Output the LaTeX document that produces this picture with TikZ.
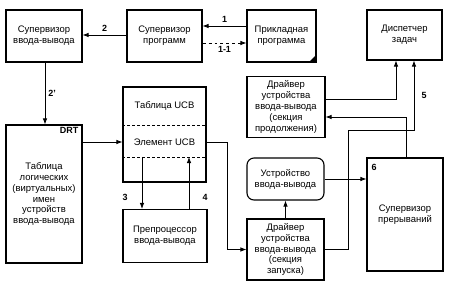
\documentclass[tikz,border=0pt]{standalone}
\usepackage{fontspec}
\setmainfont{Liberation Sans}
\usetikzlibrary{arrows.meta,calc}
\begin{document}
\begin{tikzpicture}[x=1bp,y=-1bp,
  box/.style={draw, line width=1.1bp, align=center, inner sep=0pt, font=\fontsize{9.5}{11}\selectfont},
  txt/.style={align=center, inner sep=0pt, font=\fontsize{9.5}{11}\selectfont},
  lbl/.style={inner sep=0pt, font=\fontsize{9}{11}\selectfont\bfseries},
  arr/.style={line width=0.8bp, -{Latex[length=6bp,width=4.5bp]}},
  dsh/.style={line width=0.8bp, dash pattern=on 3bp off 2bp}
]
\useasboundingbox (0,0) rectangle (459,285);

% boxes
\node[box, minimum width=76bp, minimum height=52bp] (supio) at (44,36) {Супервизор\\ввода-вывода};
\node[box, minimum width=75bp, minimum height=52bp] (supprog) at (164.5,36) {Супервизор\\программ};
\node[box, minimum width=69bp, minimum height=52bp] (app) at (281.5,36) {Прикладная\\программа};
\fill (app.south east) -- ++(-8,0) -- ++(8,-8) -- cycle;
\node[box, minimum width=75bp, minimum height=50bp] (disp) at (404.5,35) {Диспетчер\\задач};
\node[box, minimum width=78bp, minimum height=61bp] (drvcont) at (286,107) {Драйвер\\устройства\\ввода-вывода\\(секция\\продолжения)};
\node[box, minimum width=76bp, minimum height=138bp] (drt) at (44,194) {Таблица\\логических\\(виртуальных)\\имен\\устройств\\ввода-вывода};
\node[lbl, anchor=north east] (drtlbl) at ([xshift=-4bp,yshift=-3bp]drt.north east) {DRT};
\node[box, minimum width=83bp, minimum height=95bp] (ucb) at (164.5,134.5) {};
\draw[dsh] ([yshift=9.5bp]ucb.west) -- ([yshift=9.5bp]ucb.east);
\draw[dsh] ([yshift=-22.5bp]ucb.west) -- ([yshift=-22.5bp]ucb.east);
\node[txt] (ucbt) at (164.5,106) {Таблица UCB};
\node[txt] (ucbe) at (164.5,142) {Элемент UCB};
\node[box, minimum width=84bp, minimum height=53bp] (prep) at (165,236) {Препроцессор\\ввода-вывода};
\node[box, rounded corners=7bp, minimum width=77bp, minimum height=42bp] (dev) at (285.5,179) {Устройство\\ввода-вывода};
\node[box, minimum width=77bp, minimum height=61bp] (drvl) at (285.5,249.5) {Драйвер\\устройства\\ввода-вывода\\(секция\\запуска)};
\node[box, minimum width=76bp, minimum height=113bp] (intsup) at (405,214.5) {Супервизор\\прерываний};
\node[lbl] (l6) at (374,167) {6};

% connectors
\draw[arr] ([yshift=10bp]app.west) -- node[lbl, above=3bp] (l1) {1} ([yshift=10bp]supprog.east);
\draw[arr, dashed] ([yshift=-7bp]supprog.east) -- node[lbl, below=3bp] (l11) {1-1} ([yshift=-7bp]app.west);
\draw[arr] ([yshift=1bp]supprog.west) -- node[lbl, above=3bp] (l2) {2} ([yshift=1bp]supio.east);
\draw[arr] ([xshift=1bp]supio.south) -- node[lbl, right=3bp] (l2p) {2'} ([xshift=1bp]drt.north);
\draw[arr] (drt.east |- ucbe) -- (ucb.west |- ucbe);
\draw[arr] (ucb.east |- ucbe) -- ++(21,0) |- (drvl.west);
\coordinate (a3) at (142,157);
\coordinate (a4) at (189,157);
\draw[arr] (a3) -- (a3 |- prep.north);
\draw[arr] (a4 |- prep.north) -- (a4);
\node[lbl] (l3) at (125,197) {3};
\node[lbl] (l4) at (205,197) {4};
\draw[arr] (drvl.north) -- (dev.south);
\draw[arr] (dev.east) -- (intsup.west |- dev.east);
\draw[arr] (drvl.east) -- ++(24,0) -- ++(0,-119.5) -| ([xshift=9.5bp]disp.south);
\node[lbl] (l5) at (424,95) {5};
\draw[arr] ([yshift=8bp]drvcont.east) -| ([xshift=-8.5bp]disp.south);
\draw[arr] ([xshift=1bp]intsup.north) |- ([yshift=-10bp]drvcont.east);
\end{tikzpicture}
\end{document}
